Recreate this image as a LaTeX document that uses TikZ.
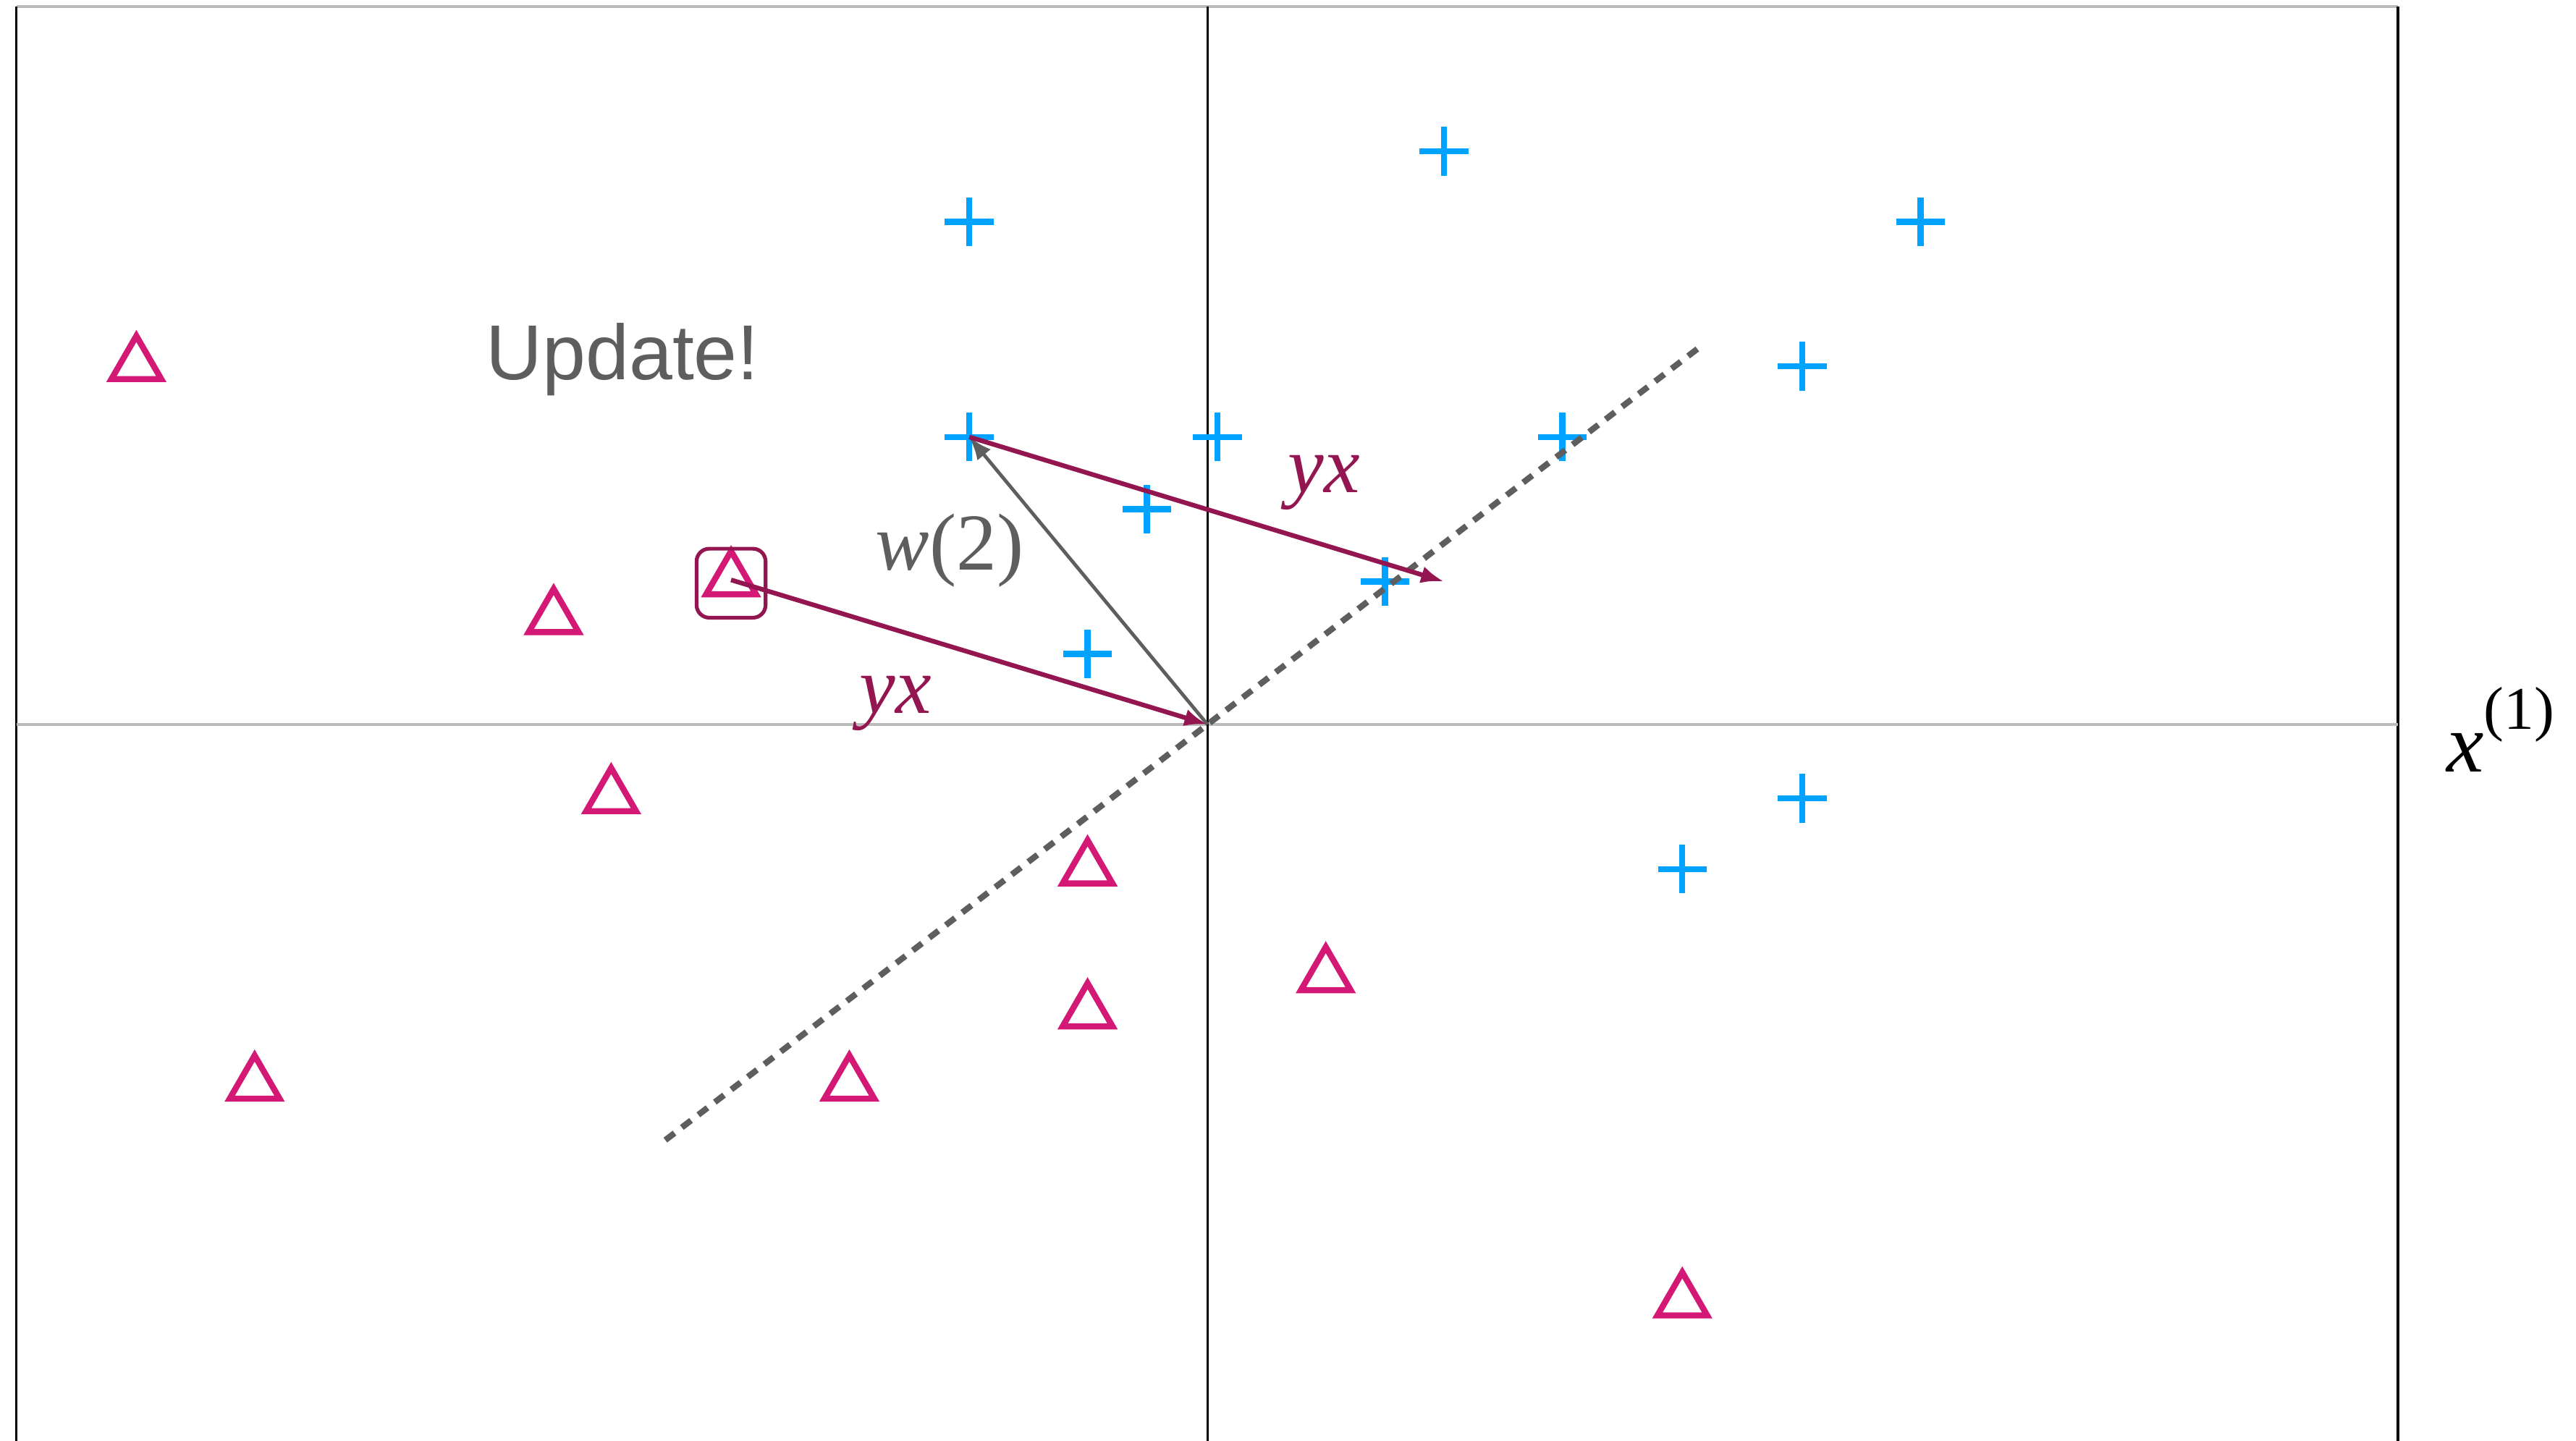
\documentclass[tikz,border=0pt]{standalone}
\usepackage{fontspec}
\setmainfont{Liberation Serif}
\setsansfont{Liberation Sans}
\usetikzlibrary{shapes.geometric, shapes.misc, arrows.meta}
\definecolor{plusblue}{HTML}{00A2FF}
\definecolor{trimag}{HTML}{D41876}
\definecolor{arrmag}{HTML}{941651}
\definecolor{darkgray}{HTML}{5E5E5E}
\definecolor{axisgray}{HTML}{BBBBBB}

\begin{document}
\begin{tikzpicture}[
    plusmark/.style={cross out, draw=plusblue, line width=1.05pt, rotate=45, minimum size=0.21cm, inner sep=0pt, outer sep=0pt},
    trimark/.style={regular polygon, regular polygon sides=3, draw=trimag, line width=1.05pt, minimum size=0.35cm, inner sep=0pt},
    selbox/.style={draw=arrmag, line width=0.65pt, rounded corners=2.2pt, minimum size=0.42cm, inner sep=0pt},
    vecarrow/.style={-{Latex[length=4pt,width=3pt]}, line width=0.8pt},
    labfont/.style={font=\fontsize{14}{16}\selectfont}
]
    % Define dimensions
    \def\xl{-7.25}
    \def\xr{7.246}
    \def\yt{4.37}
    \def\yb{-4.45}
    \useasboundingbox (-7.35,-4.36) rectangle (8.33,4.41);
    % Frame and axes
    \draw[axisgray, line width=0.45pt] (\xl,\yt) -- (\xr,\yt);
    \draw[black, line width=0.4pt] (\xl,\yt) -- (\xl,\yb);
    \draw[black, line width=0.4pt] (\xr,\yt) -- (\xr,\yb);
    \draw[axisgray, line width=0.4pt] (\xl,0) -- (\xr,0);
    \draw[black, line width=0.35pt] (0,\yt) -- (0,\yb);
    \coordinate (o) at (0,0);
    % Positive points
    \foreach \px/\py [count=\i] in {-1.45/3.06, 1.44/3.49, 4.34/3.06, 3.62/2.18, -1.45/1.75, 0.06/1.75,
                                   2.16/1.75, -0.37/1.31, 1.08/0.87, -0.73/0.43, 3.62/-0.45, 2.89/-0.88}
        \node[plusmark] (p\i) at (\px,\py) {};
    % Negative points
    \foreach \px/\py [count=\i] in {-6.52/2.19, -3.98/0.65, -2.90/0.88, -3.63/-0.44, -0.73/-0.88,
                                   -0.73/-1.75, -2.18/-2.19, 0.72/-1.53, -5.80/-2.19, 2.89/-3.51}
        \node[trimark] (t\i) at (\px,\py) {};
    % Misclassified point
    \node[selbox] (sel) at (-2.90,0.86) {};
    % Decision boundary
    \coordinate (bstart) at (-3.30,-2.53);
    \coordinate (bend) at (3.00,2.30);
    \draw[darkgray, line width=1.05pt, dash pattern=on 2pt off 1.6pt] (bstart) -- (bend);
    % Vectors
    \coordinate (yxend) at (1.44,0.87);
    \draw[vecarrow, darkgray, line width=0.6pt] (o) -- (p5.center);
    \draw[vecarrow, arrmag] (t3.center) -- (o);
    \draw[vecarrow, arrmag] (p5.center) -- (yxend);
    % Labels
    \node[labfont, text=darkgray] (wlab) at (-1.57,1.06) {\textit{w}(2)};
    \node[labfont, text=arrmag] (yxa) at (-1.90,0.13) {\textit{yx}};
    \node[labfont, text=arrmag] (yxb) at (0.71,1.47) {\textit{yx}};
    \node[font=\sffamily\fontsize{13.5}{16}\selectfont, text=darkgray] (upd) at (-3.56,2.22) {Update!};
    \node[font=\fontsize{14.5}{16}\selectfont] (xlab) at (7.87,-0.03) {\textit{x}\raisebox{1.1ex}{\fontsize{10.5}{12}\selectfont(1)}};
\end{tikzpicture}
\end{document}
